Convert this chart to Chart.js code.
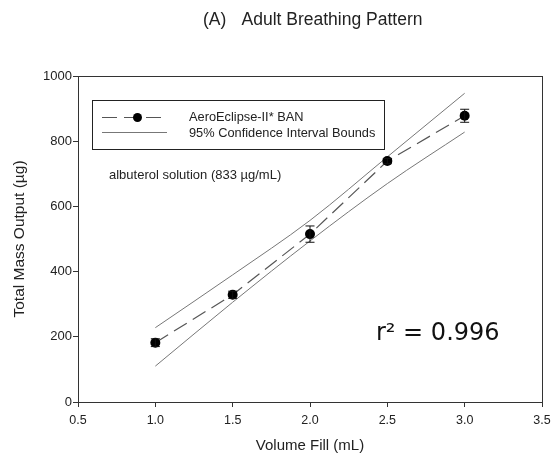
<!DOCTYPE html>
<html>
<head>
<meta charset="utf-8">
<script src="https://cdn.jsdelivr.net/npm/chart.js@4.4.1/dist/chart.umd.min.js"></script>
<style>
  html, body { margin: 0; padding: 0; background: #fff; }
  #wrap { width: 552px; height: 455px; }
</style>
</head>
<body>
<div id="wrap"><canvas id="c" width="552" height="455"></canvas></div>
<script>
// Fill volumes (mL) and measured total mass output (µg) with SD error
const volumes = [1.0, 1.5, 2.0, 2.5, 3.0];
const massOutput = [182, 329, 515, 739, 878];
const massError = [12, 11, 25, 8, 20];

// 95% confidence interval bounds of the linear fit
const ciVolumes = [1.0, 1.5, 2.0, 2.5, 3.0];
const ciUpper = [228, 390, 557, 752, 947];
const ciLower = [110, 306, 494, 670, 828];

const xTicks = [0.5, 1.0, 1.5, 2.0, 2.5, 3.0, 3.5];
const yTicks = [0, 200, 400, 600, 800, 1000];

const FONT = "'Liberation Sans', Arial, sans-serif";
const TEXT = '#222';

const points = volumes.map((v, i) => ({ x: v, y: massOutput[i] }));
const upper = ciVolumes.map((v, i) => ({ x: v, y: ciUpper[i] }));
const lower = ciVolumes.map((v, i) => ({ x: v, y: ciLower[i] }));

// Error bars, plot frame, legend, titles and annotations
const decorations = {
  id: 'decorations',
  afterDatasetsDraw(chart) {
    const { ctx, chartArea: a, scales: { x, y } } = chart;
    ctx.save();
    // error bars
    ctx.strokeStyle = '#111';
    ctx.lineWidth = 1;
    volumes.forEach((v, i) => {
      const px = x.getPixelForValue(v);
      const top = y.getPixelForValue(massOutput[i] + massError[i]);
      const bot = y.getPixelForValue(massOutput[i] - massError[i]);
      ctx.beginPath();
      ctx.moveTo(px, top); ctx.lineTo(px, bot);
      ctx.moveTo(px - 4.5, top); ctx.lineTo(px + 4.5, top);
      ctx.moveTo(px - 4.5, bot); ctx.lineTo(px + 4.5, bot);
      ctx.stroke();
    });
    // frame
    ctx.strokeStyle = '#333';
    ctx.lineWidth = 1;
    ctx.strokeRect(Math.round(a.left) + 0.5, Math.round(a.top) + 0.5,
      Math.round(a.right - a.left), Math.round(a.bottom - a.top));

    // legend box
    ctx.strokeStyle = '#222';
    ctx.strokeRect(92.5, 100.5, 292, 49);
    // first entry: dashed line with marker
    ctx.strokeStyle = '#555';
    ctx.lineWidth = 1.2;
    ctx.setLineDash([15, 7]);
    ctx.beginPath(); ctx.moveTo(102, 117.5); ctx.lineTo(167, 117.5); ctx.stroke();
    ctx.setLineDash([]);
    ctx.fillStyle = '#000';
    ctx.beginPath(); ctx.arc(137.5, 117.5, 4.5, 0, Math.PI * 2); ctx.fill();
    // second entry: solid line
    ctx.strokeStyle = '#777';
    ctx.lineWidth = 1;
    ctx.beginPath(); ctx.moveTo(102, 132.5); ctx.lineTo(167, 132.5); ctx.stroke();
    ctx.fillStyle = TEXT;
    ctx.font = '12.8px ' + FONT;
    ctx.textBaseline = 'middle';
    ctx.textAlign = 'left';
    ctx.fillText('AeroEclipse-II* BAN', 189, 117.5);
    ctx.fillText('95% Confidence Interval Bounds', 189, 133);

    // annotation
    ctx.font = '13px ' + FONT;
    ctx.fillText('albuterol solution (833 µg/mL)', 109, 175);

    // coefficient of determination
    ctx.font = '24px "DejaVu Sans", Verdana, sans-serif';
    ctx.textBaseline = 'alphabetic';
    ctx.fillStyle = '#111';
    ctx.fillText('r² = 0.996', 376, 340);

    // chart title
    ctx.fillStyle = TEXT;
    ctx.font = '17.5px ' + FONT;
    ctx.textAlign = 'left';
    ctx.textBaseline = 'middle';
    ctx.fillText('(A)', 203, 20);
    ctx.fillText('Adult Breathing Pattern', 241.5, 20);

    // axis titles
    ctx.font = '15px ' + FONT;
    ctx.textAlign = 'center';
    ctx.fillText('Volume Fill (mL)', (a.left + a.right) / 2, 446);
    ctx.translate(20, (a.top + a.bottom) / 2);
    ctx.rotate(-Math.PI / 2);
    ctx.font = '15.5px ' + FONT;
    ctx.fillText('Total Mass Output (µg)', 0, 0);
    ctx.restore();
  }
};

new Chart(document.getElementById('c'), {
  type: 'line',
  data: {
    datasets: [
      {
        label: 'AeroEclipse-II* BAN',
        data: points,
        borderColor: '#555',
        borderWidth: 1.2,
        borderDash: [15, 7],
        pointRadius: 5,
        pointBackgroundColor: '#000',
        pointBorderColor: '#000',
        pointBorderWidth: 0,
        tension: 0,
        order: 0
      },
      {
        label: '95% Confidence Interval Bounds',
        data: upper,
        borderColor: '#777',
        borderWidth: 1,
        pointRadius: 0,
        cubicInterpolationMode: 'monotone',
        order: 1
      },
      {
        label: '95% Confidence Interval Bounds (lower)',
        data: lower,
        borderColor: '#777',
        borderWidth: 1,
        pointRadius: 0,
        cubicInterpolationMode: 'monotone',
        order: 1
      }
    ]
  },
  options: {
    responsive: false,
    animation: false,
    events: [],
    layout: { padding: { top: 76, right: 10, left: 0, bottom: 0 } },
    plugins: { legend: { display: false }, title: { display: false }, tooltip: { enabled: false } },
    scales: {
      x: {
        type: 'linear',
        min: 0.5, max: 3.5,
        afterBuildTicks(s) { s.ticks = xTicks.map(v => ({ value: v })); },
        afterFit(s) { s.height = 53; s.paddingLeft = 0; s.paddingRight = 0; },
        grid: { drawOnChartArea: false, tickLength: 5, color: '#333' },
        border: { color: '#333' },
        ticks: {
          color: TEXT, padding: 6,
          font: { family: FONT, size: 12.5 },
          callback: v => v.toFixed(1)
        }
      },
      y: {
        min: 0, max: 1000,
        afterBuildTicks(s) { s.ticks = yTicks.map(v => ({ value: v })); },
        afterFit(s) { s.width = 78; s.paddingTop = 0; s.paddingBottom = 0; },
        grid: { drawOnChartArea: false, tickLength: 5, color: '#333' },
        border: { color: '#333' },
        ticks: {
          color: TEXT, padding: 1,
          font: { family: FONT, size: 13 },
          callback: v => String(v)
        }
      }
    }
  },
  plugins: [decorations]
});
</script>
</body>
</html>
